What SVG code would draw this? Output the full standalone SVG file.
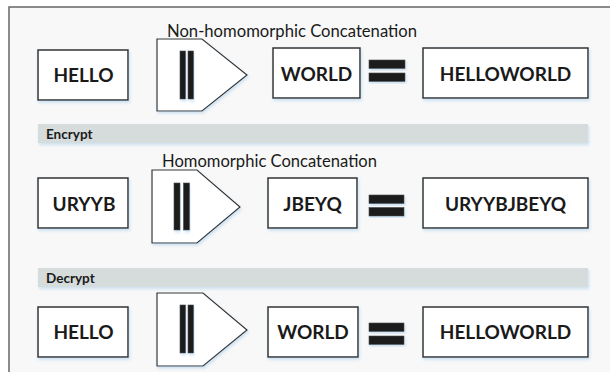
<svg xmlns="http://www.w3.org/2000/svg" width="610" height="372" viewBox="0 0 610 372">
  <defs>
    <filter id="glow" x="-10%" y="-10%" width="125%" height="130%">
      <feDropShadow dx="1" dy="2" stdDeviation="1.5" flood-color="#9cc8ea" flood-opacity="0.5"/>
    </filter>
    <style>
      .frame { fill: #f8f8f8; stroke: #666; stroke-width: 1.5; }
      .box { fill: #ffffff; stroke: #333; stroke-width: 1.5; filter: url(#glow); }
      .op { fill: #ffffff; stroke: #333; stroke-width: 1.2; filter: url(#glow); }
      .bar { fill: #1e1e1e; stroke: #444; stroke-width: 0.6; filter: url(#glow); }
      .band { fill: #d6dcdc; filter: url(#glow); }
      .lbl { font-family: Lato, "Open Sans", "Liberation Sans", sans-serif; font-weight: bold; font-size: 19px; fill: #1a1a1a; text-anchor: middle; }
      .band-lbl { font-family: Lato, "Open Sans", "Liberation Sans", sans-serif; font-weight: bold; font-size: 13.5px; fill: #1a1a1a; }
      .title { font-family: Lato, "Open Sans", "Liberation Sans", sans-serif; font-size: 16.5px; fill: #1a1a1a; }
    </style>
  </defs>

  <rect x="0" y="0" width="610" height="372" fill="#ffffff"/>
  <!-- outer frame, open on the right and bottom -->
  <rect x="9" y="7" width="610" height="380" class="frame"/>

  <!-- section titles -->
  <text class="title" x="167" y="37" textLength="250" lengthAdjust="spacingAndGlyphs">Non-homomorphic Concatenation</text>
  <text class="title" x="162" y="167" textLength="215" lengthAdjust="spacingAndGlyphs">Homomorphic Concatenation</text>

  <!-- row 1: plaintext concatenation -->
  <g id="hello1">
    <rect class="box" x="38" y="50" width="90" height="50"/>
    <text class="lbl" x="83.500" y="82">HELLO</text>
  </g>
  <g id="concat1">
    <path class="op" d="M157 39 H202 L247 75 L202 111 H157 Z"/>
    <rect class="bar" x="180" y="51" width="5.500" height="48"/>
    <rect class="bar" x="188" y="51" width="5.500" height="48"/>
  </g>
  <g id="world1">
    <rect class="box" x="273" y="48" width="87" height="50"/>
    <text class="lbl" x="316.500" y="81">WORLD</text>
  </g>
  <g id="equals1">
    <rect class="bar" x="369" y="60" width="36" height="8.500"/>
    <rect class="bar" x="369" y="73" width="36" height="8.500"/>
  </g>
  <g id="helloworld1">
    <rect class="box" x="423" y="48" width="165" height="50"/>
    <text class="lbl" x="505.500" y="81">HELLOWORLD</text>
  </g>

  <!-- encrypt band -->
  <g id="encrypt">
    <rect class="band" x="38" y="124" width="550" height="19"/>
    <text class="band-lbl" x="46" y="138.500">Encrypt</text>
  </g>

  <!-- row 2: ciphertext concatenation -->
  <g id="uryyb">
    <rect class="box" x="38" y="178" width="90" height="50"/>
    <text class="lbl" x="84" y="211">URYYB</text>
  </g>
  <g id="concat2">
    <path class="op" d="M152 170 H197 L240 207 L197 243 H152 Z"/>
    <rect class="bar" x="174" y="183" width="6" height="47"/>
    <rect class="bar" x="183.500" y="183" width="6" height="47"/>
  </g>
  <g id="jbeyq">
    <rect class="box" x="268" y="178" width="89" height="50"/>
    <text class="lbl" x="312.500" y="211">JBEYQ</text>
  </g>
  <g id="equals2">
    <rect class="bar" x="369" y="195" width="35" height="8.500"/>
    <rect class="bar" x="369" y="207.500" width="35" height="8.500"/>
  </g>
  <g id="uryybjbeyq">
    <rect class="box" x="423" y="178" width="165" height="50"/>
    <text class="lbl" x="505.500" y="211">URYYBJBEYQ</text>
  </g>

  <!-- decrypt band -->
  <g id="decrypt">
    <rect class="band" x="38" y="268" width="550" height="19"/>
    <text class="band-lbl" x="46" y="282.500">Decrypt</text>
  </g>

  <!-- row 3: decrypted result -->
  <g id="hello3">
    <rect class="box" x="38" y="307" width="90" height="50"/>
    <text class="lbl" x="83.500" y="339">HELLO</text>
  </g>
  <g id="concat3">
    <path class="op" d="M157 293 H203 L247 330 L203 366 H157 Z"/>
    <rect class="bar" x="180" y="305" width="5.500" height="48"/>
    <rect class="bar" x="188" y="305" width="5.500" height="48"/>
  </g>
  <g id="world3">
    <rect class="box" x="268" y="307" width="90" height="50"/>
    <text class="lbl" x="313" y="339">WORLD</text>
  </g>
  <g id="equals3">
    <rect class="bar" x="369" y="323" width="35" height="8.500"/>
    <rect class="bar" x="369" y="336" width="35" height="8.500"/>
  </g>
  <g id="helloworld3">
    <rect class="box" x="423" y="307" width="165" height="50"/>
    <text class="lbl" x="505.500" y="339">HELLOWORLD</text>
  </g>
</svg>
